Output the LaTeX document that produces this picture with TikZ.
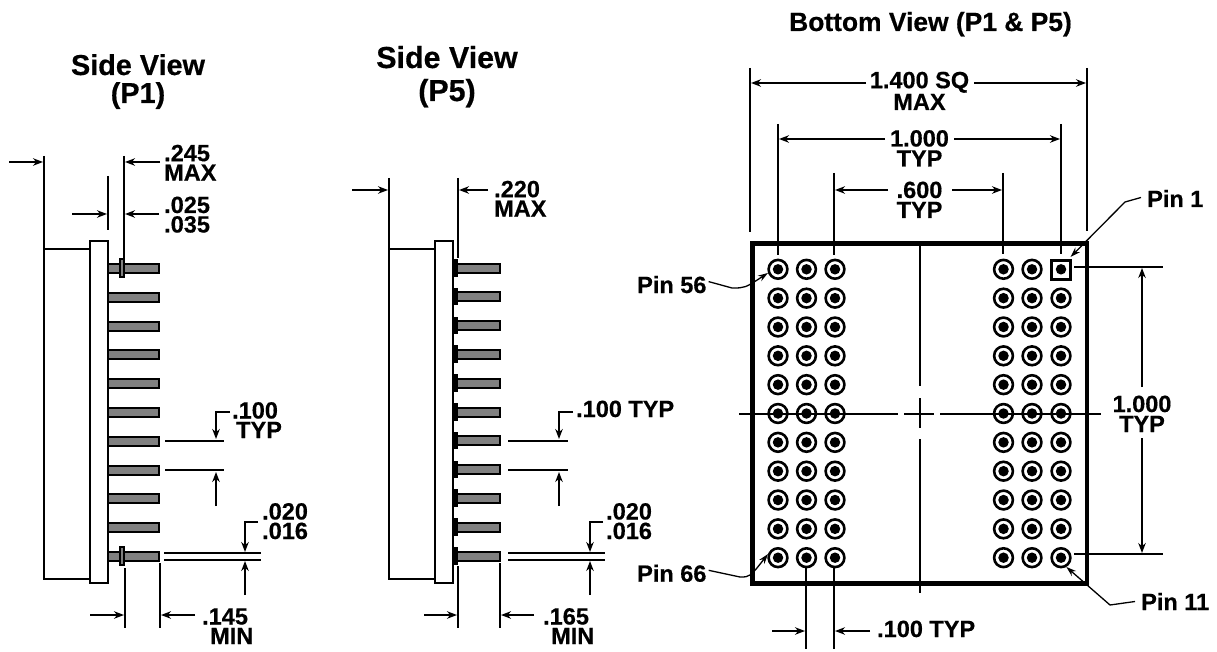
\documentclass[tikz,border=0pt]{standalone}
\usepackage{fontspec}
\setmainfont[BoldFeatures={FakeBold=0.5}]{Liberation Sans}
\usetikzlibrary{arrows.meta}

\tikzset{
    dimtext/.style={inner sep=0pt, anchor=base west, align=left, font=\fontsize{23.5}{19.5}\selectfont\bfseries},
    dimmid/.style={inner sep=0pt, anchor=base, align=center, font=\fontsize{23.5}{20}\selectfont\bfseries},
    titletext/.style={inner sep=0pt, anchor=base, align=center, font=\fontsize{#1}{28}\selectfont\bfseries},
    thin line/.style={line width=2pt},
    dimarrow/.style={line width=2pt, -{Stealth[length=10pt,width=7.5pt]}},
    leader/.style={line width=1.3pt, -{Stealth[length=10pt,width=6.5pt]}},
    pinbody/.style={draw, line width=2pt, fill=black!50},
    pinhole/.style={circle, draw, line width=2.6pt, minimum size=18.8pt, inner sep=0pt},
    pindot/.style={circle, fill=black, minimum size=10.5pt, inner sep=0pt}
}

\begin{document}
\begin{tikzpicture}[x=1pt, y=-1pt]
    \useasboundingbox (0,0) rectangle (1217,652);

    % Titles
    \node[titletext=28.8] (titleA) at (138,103) {Side View\\(P1)};
    \node[titletext=30.4] (titleB) at (447,101) {Side View\\[5pt](P5)};
    \node[titletext=26.4] (titleC) at (930.5,31) {Bottom View (P1 \& P5)};

    % Side view P1: body
    \draw[thin line] (108,241) rectangle (90,583);
    \draw[thin line] (90,249) -- (44,249) (44,156) -- (44,579) -- (90,579);
    \foreach \n in {0,...,10} {
        \draw[pinbody] (108,{264+28.8*\n}) rectangle (159,{273+28.8*\n});
    }
    \foreach \n in {0,10} {
        \draw[line width=1.7pt, fill=black!50] (120,{259+28.8*\n}) rectangle (124,{277+28.8*\n});
    }

    % Side view P1: dimensions
    \draw[thin line] (124,156) -- (124,258) (108,176) -- (108,230);
    \draw[thin line] (125,568) -- (125,628) (160,563) -- (160,628);
    \draw[dimarrow] (9,162) -- (43,162);
    \draw[dimarrow] (160,162) -- (125,162);
    \draw[dimarrow] (72,214) -- (107,214);
    \draw[dimarrow] (159,214) -- (125,214);
    \draw[dimarrow] (90,615) -- (124,615);
    \draw[dimarrow] (195,615) -- (161,615);
    \draw[thin line] (165,441) -- (224,441) (165,470) -- (224,470);
    \draw[dimarrow] (230,412) -- (216,412) -- (216,439);
    \draw[dimarrow] (216,506) -- (216,472);
    \draw[thin line] (164,553) -- (261,553) (164,560) -- (261,560);
    \draw[dimarrow] (258,522) -- (245,522) -- (245,552);
    \draw[dimarrow] (245,595) -- (245,561);
    \node[dimtext] (dimAa) at (164,180.7) {.245\\MAX};
    \node[dimtext] (dimAb) at (164,232.5) {.025\\.035};
    \node[dimtext] (dimAc) at (232,438) {.100\\\hspace*{4pt}TYP};
    \node[dimtext] (dimAd) at (262,539) {.020\\.016};
    \node[dimtext] (dimAe) at (202,644) {.145\\\hspace*{8pt}MIN};

    % Side view P5: body
    \draw[thin line] (453,241) rectangle (435,583);
    \draw[thin line] (435,249) -- (389,249) (389,178) -- (389,579) -- (435,579);
    \foreach \n in {0,...,10} {
        \draw[pinbody] (455,{263.5+28.8*\n}) rectangle (500,{272.5+28.8*\n});
        \fill (453,{259+28.8*\n}) rectangle (457.5,{276.5+28.8*\n});
    }

    % Side view P5: dimensions
    \draw[thin line] (458,178) -- (458,258) (458,566) -- (458,628) (500,563) -- (500,628);
    \draw[dimarrow] (352,190) -- (388,190);
    \draw[dimarrow] (488,190) -- (459,190);
    \draw[dimarrow] (424,615) -- (457,615);
    \draw[dimarrow] (534,615) -- (501,615);
    \draw[thin line] (508,441) -- (568,441) (508,470) -- (568,470);
    \draw[dimarrow] (573,412) -- (559,412) -- (559,439);
    \draw[dimarrow] (559,506) -- (559,472);
    \draw[thin line] (508,553) -- (605,553) (508,560) -- (605,560);
    \draw[dimarrow] (603,522) -- (590,522) -- (590,552);
    \draw[dimarrow] (590,595) -- (590,561);
    \node[dimtext] (dimBa) at (494,216.7) {.220\\MAX};
    \node[dimtext] (dimBb) at (576,417) {.100 TYP};
    \node[dimtext] (dimBc) at (606,539) {.020\\.016};
    \node[dimtext] (dimBd) at (543,644) {.165\\\hspace*{8pt}MIN};

    % Bottom view: outline and centre lines
    \draw[line width=4.8pt] (752.5,243.5) rectangle (1087,583.3);
    \draw[thin line] (920,246) -- (920,386) (920,398) -- (920,428) (920,439) -- (920,593);
    \draw[thin line] (739,414) -- (898,414) (904,414) -- (934,414) (940,414) -- (1100.5,414);

    % Bottom view: pins
    \foreach \c/\x in {1/778,2/806.5,3/835,4/1003.5,5/1032,6/1061} {
        \foreach \r in {0,...,10} {
            \pgfmathsetmacro{\y}{269.3+28.84*\r}
            \ifnum\c\r=60\relax
                \node[pindot] (dot-\c-\r) at (\x,\y) {};
                \node[draw, line width=3pt, minimum size=18.8pt, inner sep=0pt] (pin-\c-\r) at (\x,\y+0.3) {};
            \else
                \node[pindot] (dot-\c-\r) at (\x,\y) {};
                \node[pinhole] (pin-\c-\r) at (\x,\y) {};
            \fi
        }
    }

    % Bottom view: top dimensions
    \draw[thin line] (750,68) -- (750,232) (1087,68) -- (1087,231);
    \draw[thin line] (778,124) -- (778,255) (1061,124) -- (1061,254);
    \draw[thin line] (834,173) -- (834,255) (1003,173) -- (1003,254);
    \node[dimmid] (dimCa) at (919.5,110) {1.400 SQ\\MAX};
    \node[dimmid] (dimCb) at (919.5,166.5) {1.000\\TYP};
    \node[dimmid] (dimCc) at (919.5,218) {.600\\TYP};
    \draw[dimarrow] (866,83) -- (751,83);
    \draw[dimarrow] (974,83) -- (1086,83);
    \draw[dimarrow] (885,139) -- (779,139);
    \draw[dimarrow] (954,139) -- (1060,139);
    \draw[dimarrow] (888,190) -- (835,190);
    \draw[dimarrow] (952,190) -- (1002,190);

    % Bottom view: right dimension
    \draw[thin line] (1074,267) -- (1163,267) (1074,554) -- (1163,554);
    \node[dimmid] (dimCd) at (1142,432) {1.000\\TYP};
    \draw[dimarrow] (1142,387) -- (1142,268);
    \draw[dimarrow] (1142,438) -- (1142,553);

    % Bottom view: lower dimension
    \draw[thin line] (806,568) -- (806,649) (834,568) -- (834,649);
    \draw[dimarrow] (772,631) -- (805,631);
    \draw[dimarrow] (870,631) -- (835,631);
    \node[dimtext] (dimCe) at (877,637) {.100 TYP};

    % Pin labels
    \node[dimtext] (lblPinA) at (1147,207) {Pin 1};
    \node[dimtext] (lblPinB) at (637,293) {Pin 56};
    \node[dimtext] (lblPinC) at (637,581.7) {Pin 66};
    \node[dimtext] (lblPinD) at (1141,610) {Pin 11};
    \draw[leader] (lblPinA.west)+(-6,-1) -- (1125,202) -- (1070.5,257);
    \draw[leader] (lblPinB.east)+(2,-3) -- (732,288) .. controls (745,288) .. (pin-1-0.200);
    \draw[leader] (lblPinC.east)+(2,-3) -- (740,577) .. controls (750,577) .. (pin-1-10.160);
    \draw[leader] (lblPinD.west)+(-6,0) -- (1110,605) -- (pin-6-10.300);
\end{tikzpicture}
\end{document}
